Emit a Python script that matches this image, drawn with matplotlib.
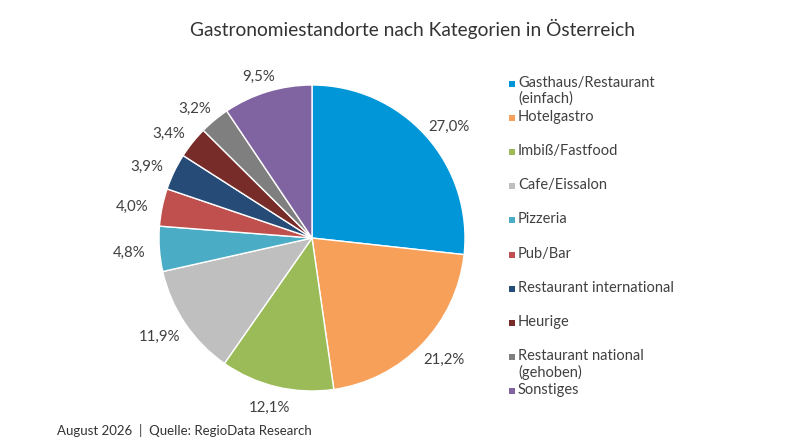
import numpy as np
import matplotlib
matplotlib.use("Agg")
import matplotlib.pyplot as plt
from matplotlib.patches import Rectangle

plt.rcParams['font.family'] = ['Lato', 'DejaVu Sans']

categories = ["Gasthaus/Restaurant\n(einfach)", "Hotelgastro", "Imbiß/Fastfood", "Cafe/Eissalon",
              "Pizzeria", "Pub/Bar", "Restaurant international", "Heurige",
              "Restaurant national\n(gehoben)", "Sonstiges"]
values = [27.0, 21.2, 12.1, 11.9, 4.8, 4.0, 3.9, 3.4, 3.2, 9.5]
colors = ["#0096D8", "#F7A05A", "#9BBB59", "#BFBFBF", "#4BACC6", "#C0504D",
          "#264B77", "#772C2A", "#7F7F7F", "#8064A2"]
title = "Gastronomiestandorte nach Kategorien in Österreich"
footer = "August 2026  |  Quelle: RegioData Research"

W, H = 800, 444
fig = plt.figure(figsize=(W / 100, H / 100), dpi=100)
fig.patch.set_facecolor("white")

cx, cy, r = 312, 444 - 238, 153
ax = fig.add_axes([(cx - r) / W, (cy - r) / H, 2 * r / W, 2 * r / H])
wedges, _ = ax.pie(values, colors=colors, startangle=90, counterclock=False,
                   wedgeprops=dict(edgecolor="white", linewidth=1.0))
ax.set_xlim(-1, 1)
ax.set_ylim(-1, 1)
ax.set_aspect("equal")
ax.axis("off")

gap, hw, hh = 0.10, 0.10, 0.02
for w, v in zip(wedges, values):
    th = np.deg2rad((w.theta1 + w.theta2) / 2)
    c, s = np.cos(th), np.sin(th)
    x = (1 + gap) * c + hw * c
    y = (1 + gap) * s + hh * s - 0.02
    ax.text(x, y, f"{v:.1f}%".replace(".", ","), ha="center", va="center",
            fontsize=10.8, color="#404040", clip_on=False)

fig.text(412.5 / W, 1 - 29 / H, title, ha="center", va="center", fontsize=13.8, color="#333333")
fig.text(57 / W, 1 - 430 / H, footer, ha="left", va="center", fontsize=9.5, color="#333333")

top, step = 84, 34.1
for i, (lab, col) in enumerate(zip(categories, colors)):
    y = top + i * step
    fig.patches.append(Rectangle((509 / W, 1 - (y + 3) / H), 6 / W, 6 / H,
                                 transform=fig.transFigure, facecolor=col, edgecolor="none"))
    fig.text(518 / W, 1 - (y - 8) / H, lab, ha="left", va="top", fontsize=10.5,
             color="#404040", linespacing=1.15)

fig.savefig("out.png", dpi=100, facecolor="white")
